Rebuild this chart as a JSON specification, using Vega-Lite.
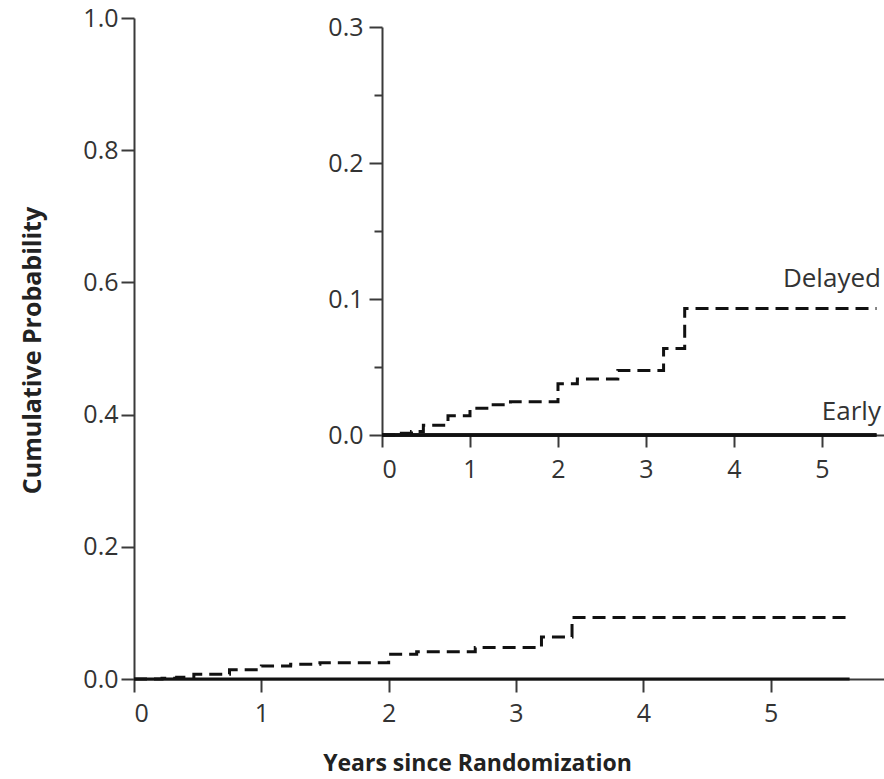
{
  "$schema": "https://vega.github.io/schema/vega-lite/v6.json",
  "width": 750,
  "height": 661,
  "autosize": {"type": "none"},
  "padding": {"left": 134, "top": 18, "right": 0, "bottom": 100},
  "background": "white",
  "config": {
    "view": {"stroke": null},
    "font": "Open Sans",
    "axis": {
      "grid": false,
      "domainColor": "#3a3a3a",
      "domainWidth": 2,
      "tickColor": "#3a3a3a",
      "tickWidth": 2,
      "labelFont": "Open Sans",
      "labelFontSize": 25,
      "labelColor": "#333",
      "titleFont": "Open Sans",
      "titleColor": "#222"
    }
  },
  "datasets": {
    "delayed": [
      {"t": 0, "p": 0},
      {"t": 0.22, "p": 0.0012},
      {"t": 0.335, "p": 0.0025},
      {"t": 0.47, "p": 0.0072},
      {"t": 0.75, "p": 0.0141},
      {"t": 1.0, "p": 0.0196},
      {"t": 1.23, "p": 0.0223},
      {"t": 1.46, "p": 0.0245},
      {"t": 2.0, "p": 0.0376},
      {"t": 2.22, "p": 0.0412},
      {"t": 2.68, "p": 0.0475},
      {"t": 3.2, "p": 0.0636},
      {"t": 3.44, "p": 0.0930},
      {"t": 5.62, "p": 0.0930}
    ],
    "early": [
      {"t": 0, "p": 0},
      {"t": 5.62, "p": 0}
    ],
    "labels": [
      {"label": "Delayed", "t": 5.67, "p": 0.109},
      {"label": "Early", "t": 5.67, "p": 0.011}
    ]
  },
  "layer": [
    {
      "encoding": {
        "x": {
          "field": "t", "type": "quantitative",
          "scale": {"domain": [0, 5.89], "nice": false, "zero": false},
          "axis": {
            "orient": "bottom", "values": [0, 1, 2, 3, 4, 5], "format": "d",
            "tickSize": 13, "labelPadding": 9,
            "title": "Years since Randomization",
            "titleFontSize": 23, "titleFontWeight": "bold",
            "titleX": 343, "titleY": 91, "titleAnchor": null,
            "titleAlign": "center", "titleBaseline": "alphabetic"
          }
        },
        "y": {
          "field": "p", "type": "quantitative",
          "scale": {"domain": [0, 1], "nice": false, "zero": false},
          "axis": {
            "orient": "left", "values": [0, 0.2, 0.4, 0.6, 0.8, 1.0], "format": ".1f",
            "tickSize": 13, "labelPadding": 3,
            "title": "Cumulative Probability",
            "titleFontSize": 25, "titleFontWeight": "bold",
            "titleX": -102, "titleY": 332, "titleAngle": -90,
            "titleAlign": "center", "titleBaseline": "middle"
          }
        }
      },
      "layer": [
        {
          "data": {"name": "delayed"},
          "mark": {"type": "line", "interpolate": "step-after", "color": "#111", "strokeWidth": 3, "strokeDash": [13, 7]}
        },
        {
          "data": {"name": "early"},
          "mark": {"type": "line", "color": "#111", "strokeWidth": 3}
        }
      ]
    },
    {
      "encoding": {
        "x": {
          "field": "t", "type": "quantitative",
          "scale": {"domain": [0, 5.705], "range": [248, 750], "nice": false, "zero": false},
          "axis": {
            "orient": "bottom", "offset": -244, "values": [0, 1, 2, 3, 4, 5], "format": "d",
            "tickSize": 12, "labelPadding": 10, "title": null
          }
        },
        "y": {
          "field": "p", "type": "quantitative",
          "scale": {"domain": [0, 0.3], "range": [417, 9], "nice": false, "zero": false},
          "axis": {
            "orient": "left", "offset": -248, "values": [0, 0.1, 0.2, 0.3], "format": ".1f",
            "tickSize": 13, "labelPadding": 6, "title": null
          }
        }
      },
      "layer": [
        {
          "data": {"name": "delayed"},
          "mark": {"type": "line", "interpolate": "step-after", "color": "#111", "strokeWidth": 3, "strokeDash": [13, 7]}
        },
        {
          "data": {"name": "early"},
          "mark": {"type": "line", "color": "#111", "strokeWidth": 3.5}
        },
        {
          "data": {"name": "labels"},
          "mark": {"type": "text", "align": "right", "baseline": "alphabetic", "font": "Open Sans", "fontSize": 26, "color": "#333"},
          "encoding": {"text": {"field": "label", "type": "nominal"}}
        }
      ]
    },
    {
      "data": {"name": "early"},
      "mark": {"type": "line", "color": "#111", "strokeWidth": 3.5},
      "encoding": {
        "x": {
          "field": "t", "type": "quantitative",
          "scale": {"domain": [0, 5.705], "range": [248, 750], "nice": false, "zero": false},
          "axis": null
        },
        "y": {
          "field": "p", "type": "quantitative",
          "scale": {"domain": [0, 0.3], "range": [417, 9], "nice": false, "zero": false},
          "axis": {
            "orient": "left", "offset": -248, "values": [0.05, 0.15, 0.25],
            "labels": false, "domain": false, "tickSize": 8, "title": null
          }
        }
      }
    }
  ],
  "resolve": {
    "scale": {"x": "independent", "y": "independent"},
    "axis": {"x": "independent", "y": "independent"}
  }
}
